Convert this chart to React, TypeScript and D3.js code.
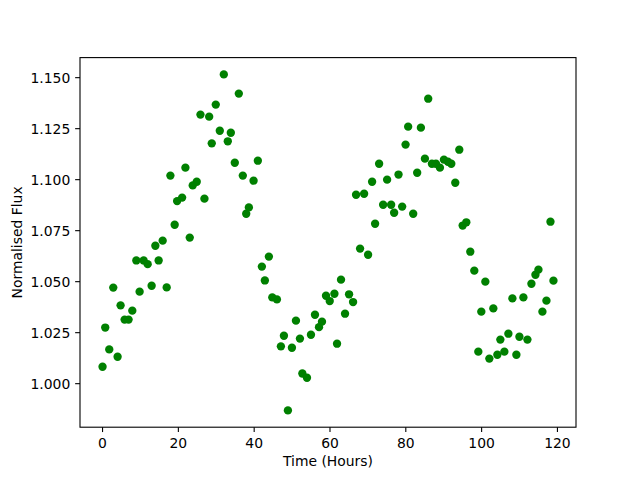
import React from "react";
import * as d3 from "d3";

const times: number[] = [
  0, 0.71, 1.77, 2.83, 3.97, 4.76, 5.82, 6.87, 7.85, 8.91,
  9.78, 10.84, 11.9, 12.95, 13.93, 14.8, 15.86, 16.92, 17.9, 19.03,
  19.67, 20.99, 21.86, 23.0, 23.79, 24.85, 25.83, 26.88, 28.13, 28.81,
  29.87, 30.93, 31.99, 33.04, 33.84, 34.89, 35.95, 37.0, 37.9, 38.6,
  39.84, 40.97, 42.03, 42.82, 43.88, 44.78, 46.0, 47.05, 47.85, 48.9,
  49.96, 51.02, 52.07, 52.71, 53.93, 54.98, 56.04, 57.1, 57.89, 58.95,
  59.93, 61.17, 61.86, 62.91, 63.97, 65.03, 66.09, 66.88, 67.94, 69.0,
  70.05, 71.11, 71.9, 72.96, 74.02, 75.07, 76.13, 76.92, 78.08, 79.04,
  79.94, 80.62, 81.95, 83.0, 83.98, 85.04, 85.91, 86.89, 87.95, 89.0,
  90.06, 91.12, 92.0, 93.05, 94.11, 95.0, 95.96, 97.01, 98.07, 99.13,
  99.92, 100.98, 102.04, 103.09, 104.15, 104.94, 106.0, 107.06, 108.12, 109.17,
  109.97, 111.02, 112.08, 113.14, 114.2, 114.99, 116.04, 117.1, 118.16, 118.95,
];

const flux: number[] = [
  1.0083, 1.0275, 1.0168, 1.0471, 1.0132, 1.0384, 1.0314, 1.0314, 1.0358, 1.0604,
  1.0451, 1.0604, 1.0586, 1.048, 1.0676, 1.0604, 1.0701, 1.0472, 1.102, 1.0779,
  1.0895, 1.0912, 1.1059, 1.0716, 1.0972, 1.099, 1.1319, 1.0907, 1.1309, 1.1178,
  1.1368, 1.124, 1.1516, 1.1188, 1.123, 1.1083, 1.1422, 1.102, 1.0833, 1.0864,
  1.0995, 1.1093, 1.0574, 1.0506, 1.0623, 1.0423, 1.0413, 1.0183, 1.0235, 0.9869,
  1.0176, 1.0309, 1.0221, 1.005, 1.0029, 1.024, 1.0338, 1.0277, 1.0304, 1.0431,
  1.0405, 1.0441, 1.0196, 1.051, 1.0343, 1.0438, 1.04, 1.0926, 1.0662, 1.0931,
  1.0632, 1.099, 1.0784, 1.1078, 1.0877, 1.1, 1.0877, 1.0838, 1.1025, 1.0868,
  1.1172, 1.126, 1.0833, 1.1034, 1.1255, 1.1103, 1.1397, 1.1078, 1.1078, 1.1059,
  1.1098, 1.1088, 1.1078, 1.0985, 1.1147, 1.0775, 1.0791, 1.0647, 1.0554, 1.0157,
  1.0353, 1.05, 1.0123, 1.0369, 1.0142, 1.0216, 1.0157, 1.0245, 1.0418, 1.0142,
  1.023, 1.0423, 1.0216, 1.049, 1.0534, 1.0559, 1.0353, 1.0407, 1.0794, 1.0505,
];

const xTicks: number[] = [0, 20, 40, 60, 80, 100, 120];
const yTicks: number[] = [1.0, 1.025, 1.05, 1.075, 1.1, 1.125, 1.15];
const xLabel = "Time (Hours)";
const yLabel = "Normalised Flux";

export default function App() {
  const W = 640, H = 480;
  const left = 80, right = 576, top = 57.6, bottom = 427.2;
  const xExt = d3.extent(times) as [number, number];
  const yExt = d3.extent(flux) as [number, number];
  const xPad = (xExt[1] - xExt[0]) * 0.05;
  const yPad = (yExt[1] - yExt[0]) * 0.05;
  const x = d3.scaleLinear().domain([xExt[0] - xPad, xExt[1] + xPad]).range([left, right]);
  const y = d3.scaleLinear().domain([yExt[0] - yPad, yExt[1] + yPad]).range([bottom, top]);
  const font = "'DejaVu Sans', sans-serif";
  const fs = 13.9;
  const tickLen = 4.86;

  return (
    <svg width={W} height={H} style={{ position: "absolute", left: 0, top: 0, background: "#fff" }}
      fontFamily={font}>
      <rect x={0} y={0} width={W} height={H} fill="#fff" />
      {times.map((t, i) => (
        <circle key={i} cx={x(t)} cy={y(flux[i])} r={4.17} fill="#008000" />
      ))}
      <rect x={left} y={top} width={right - left} height={bottom - top} fill="none" stroke="#000" strokeWidth={1.1} />
      {xTicks.map((t) => (
        <g key={"x" + t}>
          <line x1={x(t)} x2={x(t)} y1={bottom} y2={bottom + tickLen} stroke="#000" strokeWidth={1.1} />
          <text x={x(t)} y={bottom + 20.5} textAnchor="middle" fontSize={fs} fill="#000">{t}</text>
        </g>
      ))}
      {yTicks.map((v) => (
        <g key={"y" + v}>
          <line x1={left - tickLen} x2={left} y1={y(v)} y2={y(v)} stroke="#000" strokeWidth={1.1} />
          <text x={left - 9.7} y={y(v)} dy="0.36em" textAnchor="end" fontSize={fs} fill="#000">{v.toFixed(3)}</text>
        </g>
      ))}
      <text x={(left + right) / 2} y={466} textAnchor="middle" fontSize={fs} fill="#000">{xLabel}</text>
      <text transform={`translate(21.5, ${(top + bottom) / 2}) rotate(-90)`} textAnchor="middle" fontSize={fs} fill="#000">{yLabel}</text>
    </svg>
  );
}
